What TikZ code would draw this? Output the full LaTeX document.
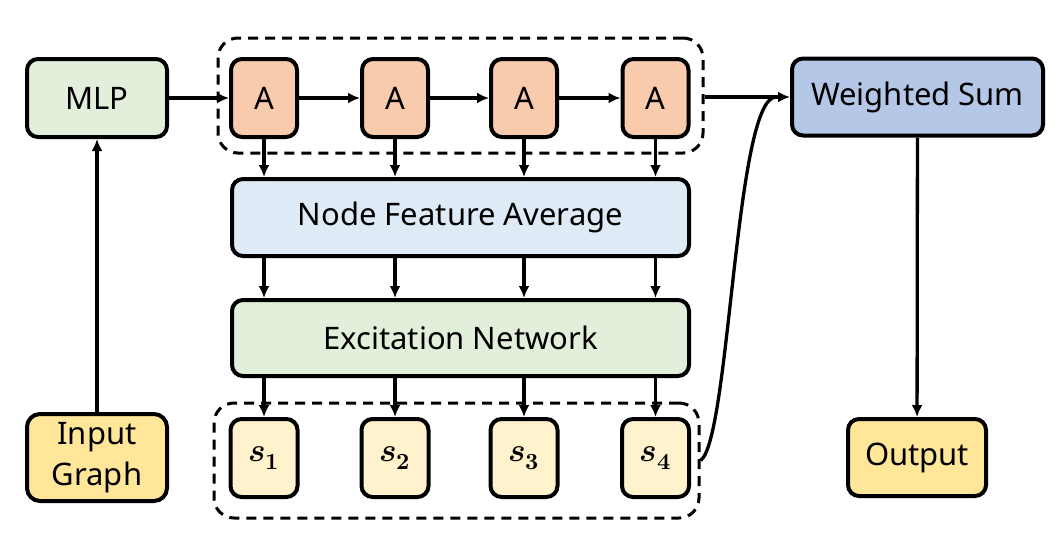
\documentclass[tikz,border=0pt]{standalone}
\usepackage{fontspec}
\usepackage{unicode-math}
\setmainfont{Noto Sans}
\setmathfont{Latin Modern Math}
\usetikzlibrary{arrows.meta}
\definecolor{cgreen}{HTML}{E2EFDA}
\definecolor{corange}{HTML}{F8CBAD}
\definecolor{cblue}{HTML}{DEEBF7}
\definecolor{cdblue}{HTML}{B4C7E7}
\definecolor{cyel}{HTML}{FFF2CC}
\definecolor{cgold}{HTML}{FFE699}
\begin{document}
\begin{tikzpicture}[x=1pt,y=-1pt,
  box/.style={draw=black,line width=4pt,rounded corners=11pt,inner sep=0pt,align=center,
    font=\fontsize{31}{41}\selectfont},
  grp/.style={draw=black,line width=3pt,dash pattern=on 10pt off 7pt,rounded corners=20pt,inner sep=0pt},
  arr/.style={line width=3.3pt,-{Latex[length=12pt,width=11pt]}},
  plain/.style={line width=3.3pt}]
\useasboundingbox (0,0) rectangle (1060,546);
% groups
\node[grp,minimum width=485pt,minimum height=115pt] (top) at (460.5,95.5) {};
\node[grp,minimum width=485pt,minimum height=115pt] (bot) at (456.5,460.5) {};
% nodes
\node[box,fill=cgreen,minimum width=140pt,minimum height=78pt] (mlp) at (97,98) {MLP};
\node[box,fill=cgold,minimum width=140pt,minimum height=87pt,rounded corners=13pt] (in) at (97,457.5) {Input\\Graph};
\foreach \i/\x in {1/264,2/395,3/524,4/655.5}{
  \node[box,fill=corange,minimum width=66pt,minimum height=78pt] (a\i) at (\x,98) {A};
  \node[box,fill=cyel,minimum width=67pt,minimum height=78pt,font=\fontsize{33}{36}\selectfont] (s\i) at (\x,458) {$\symbfit{s}_{\symbf{\i}}$};
}
\node[box,fill=cblue,minimum width=457pt,minimum height=77pt] (nfa) at (460.5,217.5) {Node Feature Average};
\node[box,fill=cgreen,minimum width=457pt,minimum height=76pt] (en) at (460.5,338) {Excitation Network};
\node[box,fill=cdblue,minimum width=251pt,minimum height=77pt] (ws) at (917.5,97) {Weighted Sum};
\node[box,fill=cgold,minimum width=138pt,minimum height=77pt] (out) at (917,457.5) {Output};
% connectors
\draw[arr] (in) -- (mlp);
\draw[arr] (mlp) -- (a1);
\draw[arr] (a1) -- (a2);
\draw[arr] (a2) -- (a3);
\draw[arr] (a3) -- (a4);
\foreach \i in {1,2,3,4}{
  \draw[arr] (a\i.south) -- (a\i.south |- nfa.north);
  \draw[arr] (a\i.south |- nfa.south) -- (a\i.south |- en.north);
  \draw[arr] (a\i.south |- en.south) -- (s\i.north);
}
\draw[arr] (top.east |- ws.west) -- (ws.west);
\coordinate (j) at (776,97);
\draw[plain] (bot.east) .. controls (730,440) and (735,97) .. (j);
\draw[arr] (ws) -- (out);
\end{tikzpicture}
\end{document}
